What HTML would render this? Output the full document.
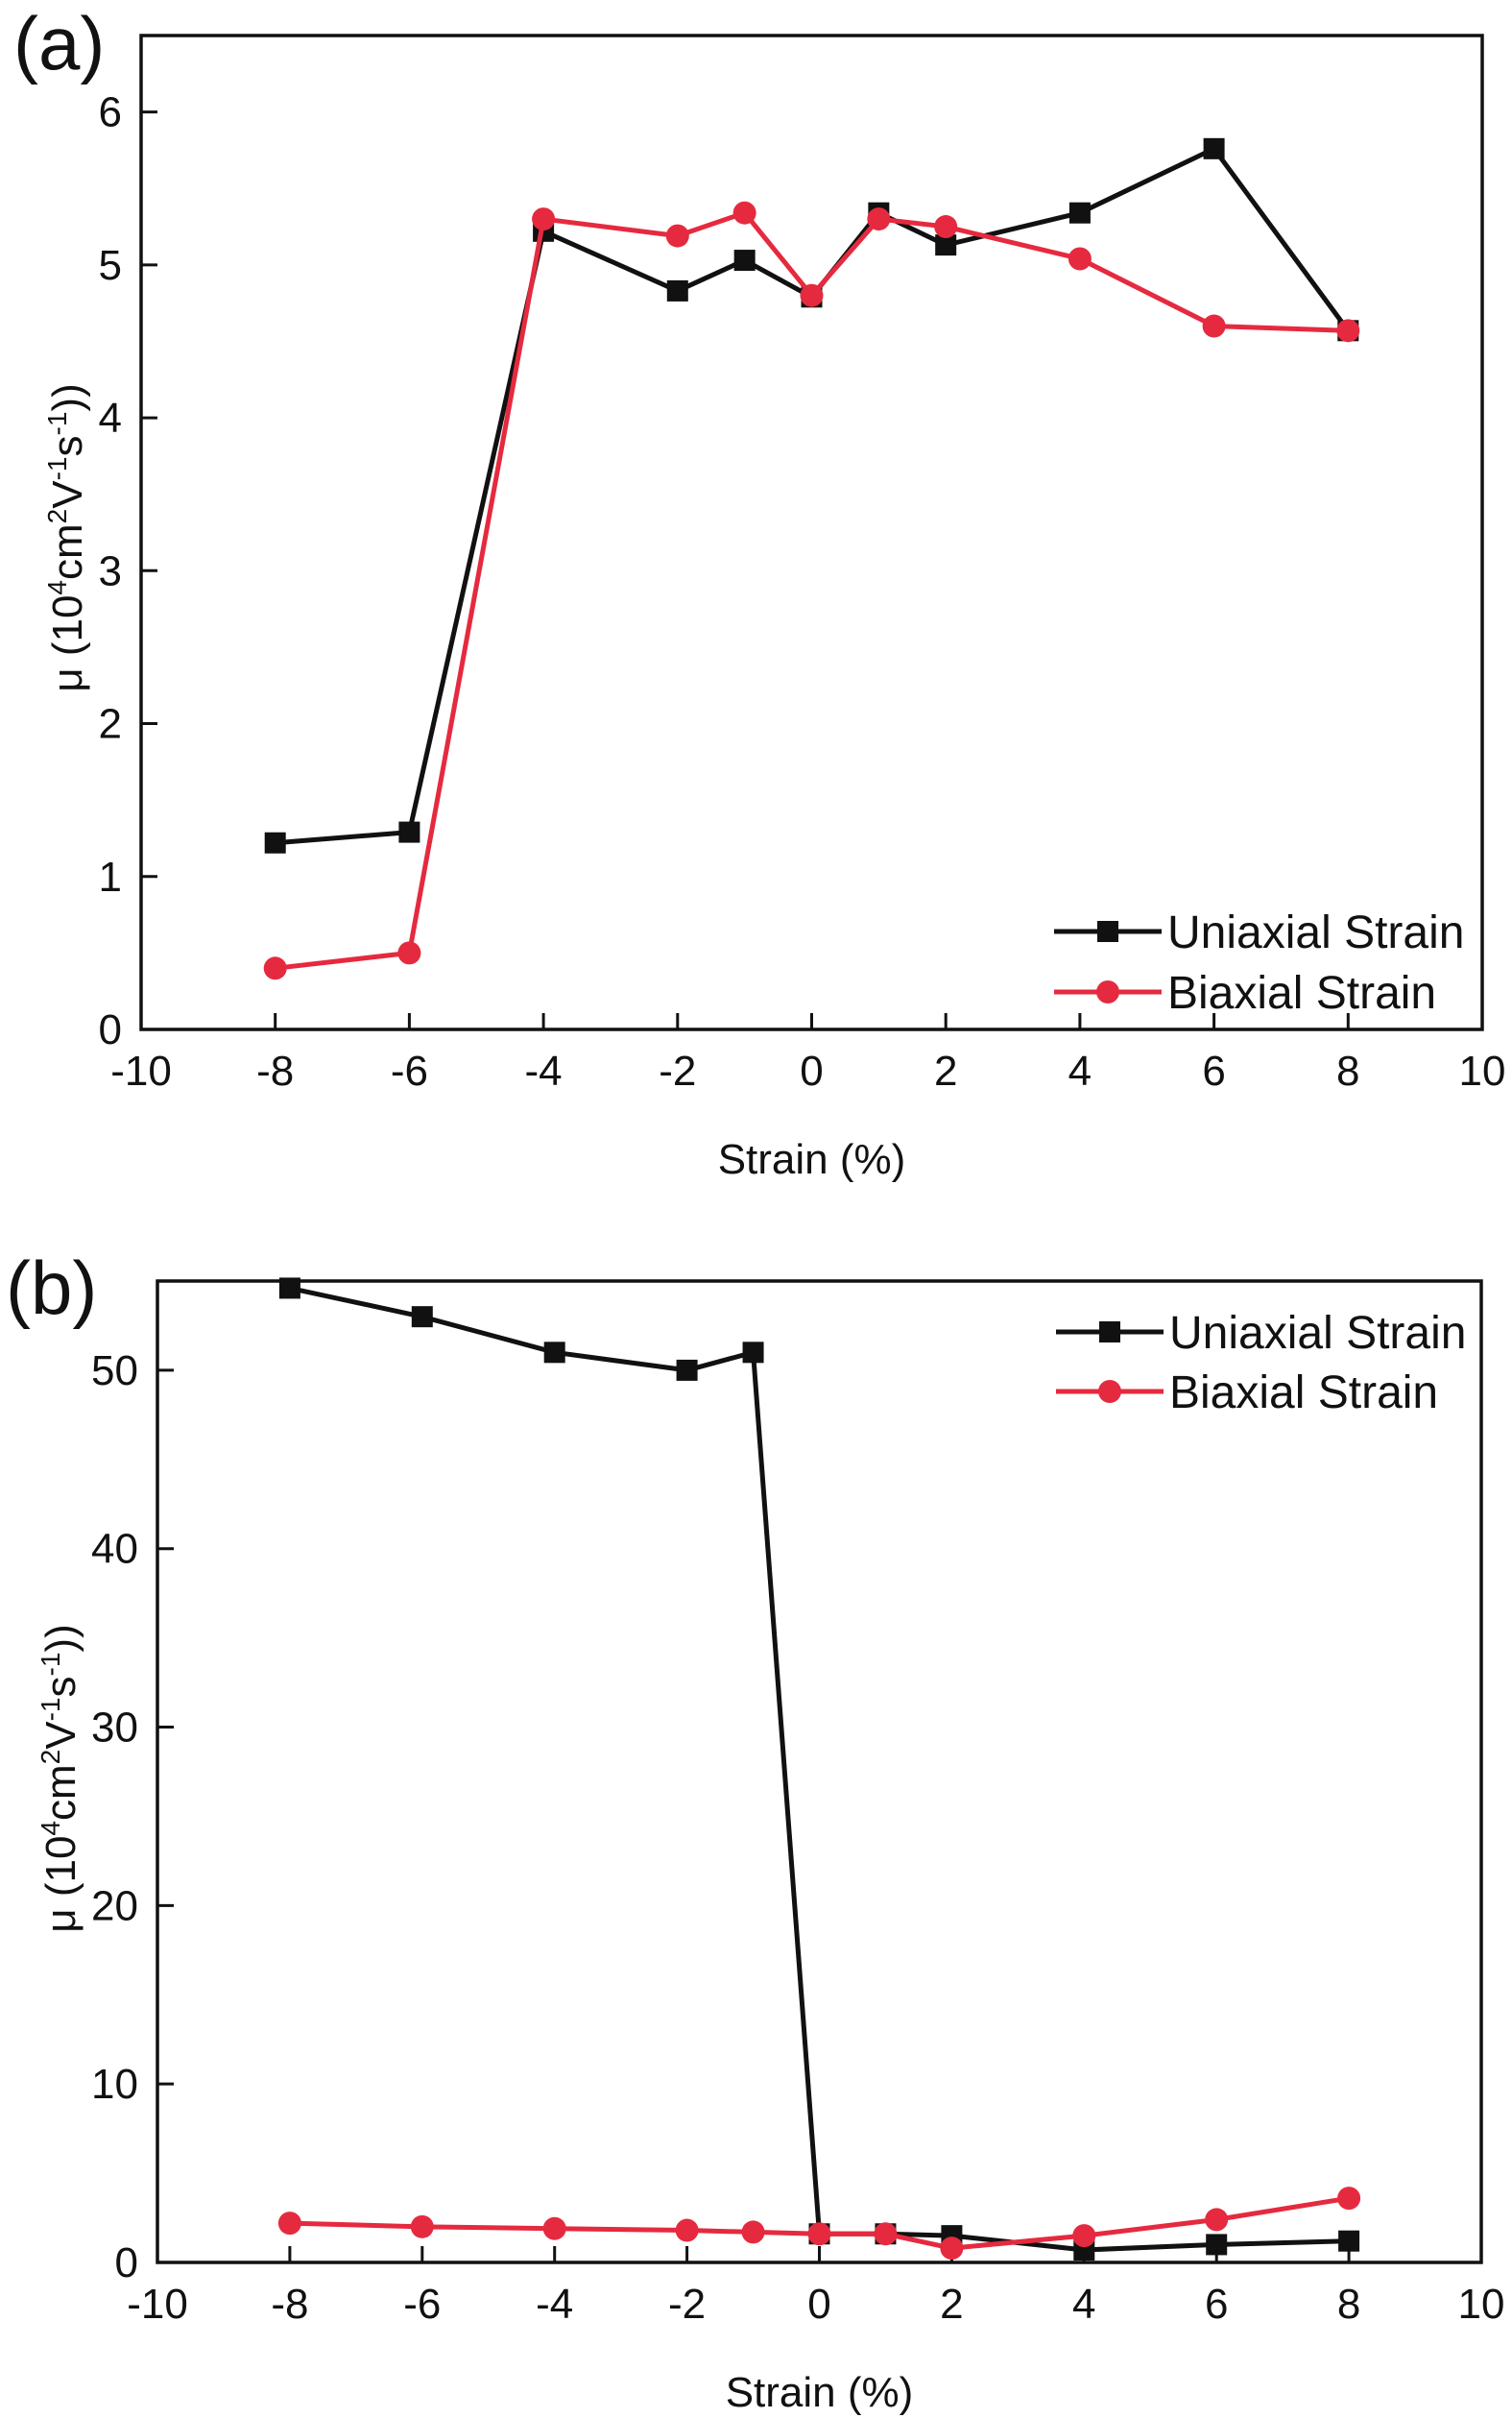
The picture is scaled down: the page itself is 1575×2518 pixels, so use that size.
<!DOCTYPE html>
<html><head><meta charset="utf-8"><style>
html,body{margin:0;padding:0;background:#fff}
svg{display:block}
text{font-family:"Liberation Sans Narrow","Liberation Sans",sans-serif;fill:#111}
</style></head><body>
<svg id="fig" width="1575" height="2518" viewBox="0 0 1575 2518"></svg>
<script>
const strain = [-8,-6,-4,-2,-1,0,1,2,4,6,8];
const uniA = [1.22,1.29,5.22,4.83,5.03,4.79,5.34,5.13,5.34,5.76,4.57];
const biA  = [0.40,0.50,5.30,5.19,5.34,4.80,5.30,5.25,5.04,4.60,4.57];
const uniB = [54.6,53.0,51.0,50.0,51.0,1.6,1.6,1.5,0.7,1.0,1.2];
const biB  = [2.2,2.0,1.9,1.8,1.7,1.6,1.6,0.8,1.5,2.4,3.6];
const xTicks = [-10,-8,-6,-4,-2,0,2,4,6,8,10];
const yTicksA = [0,1,2,3,4,5,6];
const yTicksB = [0,10,20,30,40,50];

const NS='http://www.w3.org/2000/svg';
const svg=document.getElementById('fig');
function mk(tag,attrs,parent){const e=document.createElementNS(NS,tag);for(const k in attrs)e.setAttribute(k,attrs[k]);(parent||svg).appendChild(e);return e;}
const RED='#e52a3f';

function panel(p){
  const g=mk('g',{});
  
  
  const sx=v=>p.L+(v-(-10))/20*(p.R-p.L);
  const sy=v=>p.B-(v-p.ymin)/(p.ymax-p.ymin)*(p.B-p.T);
  const lab=mk('text',{x:p.labX,y:p.labY,'font-size':78},g);lab.textContent='('+p.id+')';
  
  
  const frame=mk('rect',{x:p.L,y:p.T,width:p.R-p.L,height:p.B-p.T,fill:'none',stroke:'#111','stroke-width':3.5},g);
  
  
  xTicks.forEach(t=>{
    const x=sx(t);
    const tk=mk('line',{x1:x,x2:x,y1:p.B,y2:p.B-17,stroke:'#111','stroke-width':3},g);
    
    
    const tx=mk('text',{x:x,y:p.B+58,'font-size':44,'text-anchor':'middle'},g);tx.textContent=String(t);
    
    
  });
  p.yTicks.forEach(t=>{
    const y=sy(t);
    const tk=mk('line',{x1:p.L,x2:p.L+17,y1:y,y2:y,stroke:'#111','stroke-width':3},g);
    
    
    const tx=mk('text',{x:p.L-20,y:y+15,'font-size':44,'text-anchor':'end'},g);tx.textContent=String(t);
    
    
  });
  const xt=mk('text',{x:(p.L+p.R)/2,y:p.xtY,'font-size':44,'text-anchor':'middle'},g);xt.textContent='Strain (%)';
  
  
  const yt=mk('text',{x:0,y:0,'font-size':44,'text-anchor':'middle',transform:`translate(${p.ytX},${p.ytY}) rotate(-90)`},g);
  yt.innerHTML='μ (10<tspan dy="-16" font-size="28">4</tspan><tspan dy="16">cm</tspan><tspan dy="-16" font-size="28">2</tspan><tspan dy="16">V</tspan><tspan dy="-16" font-size="28">-1</tspan><tspan dy="16">s</tspan><tspan dy="-16" font-size="28">-1</tspan><tspan dy="16">))</tspan>';
  
  
  function series(vals,color,shape,name){
    const sg=mk('g',{},g);
    
    
    const pts=strain.map((s,i)=>sx(s)+','+sy(vals[i])).join(' ');
    mk('polyline',{points:pts,fill:'none',stroke:color,'stroke-width':5,'stroke-linejoin':'round'},sg);
    strain.forEach((s,i)=>{
      const x=sx(s),y=sy(vals[i]);
      let m;
      if(shape==='sq') m=mk('rect',{x:x-11,y:y-11,width:22,height:22,fill:color},sg);
      else m=mk('circle',{cx:x,cy:y,r:12,fill:color},sg);
      
      
    });
  }
  series(p.uni,'#111','sq','uniaxial-series');
  series(p.bi,RED,'ci','biaxial-series');
  // legend
  const lg=mk('g',{},g);
  
  
  [[p.legY1,'#111','sq','Uniaxial Strain'],[p.legY2,RED,'ci','Biaxial Strain']].forEach(([y,c,sh,t])=>{
    const e=mk('g',{},lg);
    
    
    mk('line',{x1:p.legX,x2:p.legX+112,y1:y,y2:y,stroke:c,'stroke-width':5},e);
    if(sh==='sq') mk('rect',{x:p.legX+45,y:y-11,width:22,height:22,fill:c},e);
    else mk('circle',{cx:p.legX+56,cy:y,r:12,fill:c},e);
    const tx=mk('text',{x:p.legX+118,y:y+17,'font-size':48},e);tx.textContent=t;
  });
}
panel({id:'a',L:147,R:1544,T:37,B:1072,ymin:0,ymax:6.5,yTicks:yTicksA,uni:uniA,bi:biA,
  labX:14,labY:72,xtY:1222,ytX:85,ytY:560,legX:1098,legY1:970,legY2:1033});
panel({id:'b',L:164,R:1543,T:1334,B:2356,ymin:0,ymax:55,yTicks:yTicksB,uni:uniB,bi:biB,
  labX:6,labY:1368,xtY:2506,ytX:78,ytY:1852,legX:1100,legY1:1387,legY2:1449});
</script>
</body></html>
